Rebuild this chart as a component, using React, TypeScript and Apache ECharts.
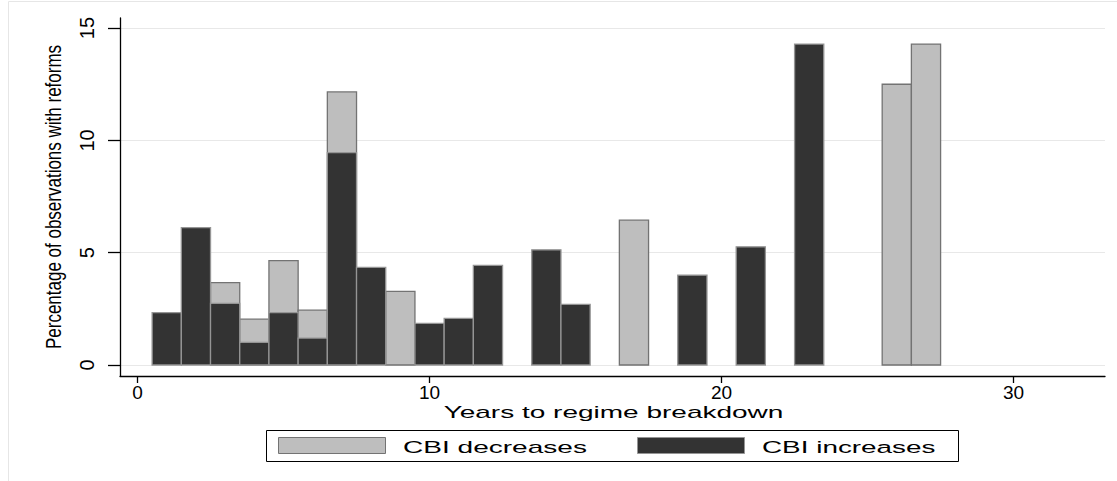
import React, { useEffect, useRef } from "react";
import * as echarts from "echarts";

// ---- data ----
const INCREASE_YEARS = [1, 2, 3, 4, 5, 6, 7, 8, 10, 11, 12, 14, 15, 19, 21, 23];
const INCREASE_PCT = [2.33, 6.12, 2.74, 1.01, 2.33, 1.2, 9.46, 4.35, 1.85, 2.08, 4.44, 5.13, 2.7, 4.0, 5.26, 14.29];
const DECREASE_YEARS = [3, 4, 5, 6, 7, 9, 17, 26, 27];
const DECREASE_PCT = [3.67, 2.04, 4.65, 2.44, 12.16, 3.28, 6.45, 12.5, 14.29];
const X_TICKS = [0, 10, 20, 30];
const Y_TICKS = [0, 5, 10, 15];
const BIN_WIDTH = 1;
const X_TITLE = "Years to regime breakdown";
const Y_TITLE = "Percentage of observations with reforms";
const SERIES_NAMES = ["CBI decreases", "CBI increases"];

const FONT = "'Liberation Sans', Arial, Helvetica, sans-serif";
const LIGHT_FILL = "#bebebe";
const LIGHT_STROKE = "#737373";
const DARK_FILL = "#333333";
const DARK_STROKE = "#959595";

export default function App() {
  const ref = useRef<HTMLDivElement>(null);

  useEffect(() => {
    const chart = echarts.init(ref.current as HTMLDivElement, null, { renderer: "svg" });

    const makeBars = (name: string, xs: number[], ys: number[], fill: string, stroke: string) => ({
      type: "custom",
      name,
      data: xs.map((x, i) => [x, ys[i]]),
      encode: { x: 0, y: 1 },
      renderItem: (_params: any, api: any) => {
        const x = api.value(0) as number;
        const y = api.value(1) as number;
        const tl = api.coord([x - BIN_WIDTH / 2, y]);
        const br = api.coord([x + BIN_WIDTH / 2, 0]);
        return {
          type: "rect",
          shape: { x: tl[0], y: tl[1], width: br[0] - tl[0], height: br[1] - tl[1] },
          style: { fill, stroke, lineWidth: 1.3 },
        };
      },
    });

    chart.setOption({
      animation: false,
      backgroundColor: "#ffffff",
      grid: { left: 120, right: 12, top: 18, bottom: 105, containLabel: false },
      xAxis: {
        type: "value",
        min: -0.6,
        max: 33.13,
        axisLine: { show: true, onZero: false, lineStyle: { color: "#000", width: 1.3 } },
        axisTick: { show: true, length: 7, customValues: X_TICKS, lineStyle: { color: "#000", width: 1.3 } },
        axisLabel: { customValues: X_TICKS, fontSize: 19, fontFamily: FONT, color: "#000", margin: 7 },
        splitLine: { show: false },
      },
      yAxis: {
        type: "value",
        min: -0.49,
        max: 15.45,
        axisLine: { show: true, onZero: false, lineStyle: { color: "#000", width: 1.3 } },
        axisTick: { show: true, length: 12, customValues: Y_TICKS, lineStyle: { color: "#000", width: 1.3 } },
        axisLabel: { customValues: Y_TICKS, rotate: 90, fontSize: 20, fontFamily: FONT, color: "#000", margin: 23 },
        splitLine: { show: true, lineStyle: { color: "#e8e8e8", width: 1.2 } },
      },
      series: [
        makeBars(SERIES_NAMES[0], DECREASE_YEARS, DECREASE_PCT, LIGHT_FILL, LIGHT_STROKE),
        makeBars(SERIES_NAMES[1], INCREASE_YEARS, INCREASE_PCT, DARK_FILL, DARK_STROKE),
      ],
      graphic: [
        {
          type: "rect",
          z: -10,
          silent: true,
          shape: { x: 8.5, y: 1.5, width: 1200, height: 600 },
          style: { fill: "none", stroke: "#e6e6e6", lineWidth: 1 },
        },
        {
          type: "text",
          x: 54,
          y: 197,
          rotation: Math.PI / 2,
          scaleY: 1.25,
          style: { text: Y_TITLE, fontSize: 17, fontFamily: FONT, fill: "#000", align: "center", verticalAlign: "middle" },
        },
        {
          type: "text",
          x: 613.5,
          y: 412.5,
          scaleX: 1.75,
          style: { text: X_TITLE, fontSize: 16, fontFamily: FONT, fill: "#000", align: "center", verticalAlign: "middle" },
        },
        {
          type: "rect",
          shape: { x: 266.5, y: 430.5, width: 692, height: 31 },
          style: { fill: "#fff", stroke: "#000", lineWidth: 1 },
        },
        {
          type: "rect",
          shape: { x: 278.5, y: 437.5, width: 107, height: 16 },
          style: { fill: LIGHT_FILL, stroke: LIGHT_STROKE, lineWidth: 1 },
        },
        {
          type: "text",
          x: 403,
          y: 447,
          scaleX: 1.65,
          style: { text: SERIES_NAMES[0], fontSize: 17, fontFamily: FONT, fill: "#000", align: "left", verticalAlign: "middle" },
        },
        {
          type: "rect",
          shape: { x: 637.5, y: 437.5, width: 107, height: 16 },
          style: { fill: DARK_FILL, stroke: DARK_STROKE, lineWidth: 1 },
        },
        {
          type: "text",
          x: 762,
          y: 447,
          scaleX: 1.64,
          style: { text: SERIES_NAMES[1], fontSize: 17, fontFamily: FONT, fill: "#000", align: "left", verticalAlign: "middle" },
        },
      ],
    });

    return () => chart.dispose();
  }, []);

  return <div ref={ref} style={{ position: "fixed", left: 0, top: 0, width: 1117, height: 481 }} />;
}
